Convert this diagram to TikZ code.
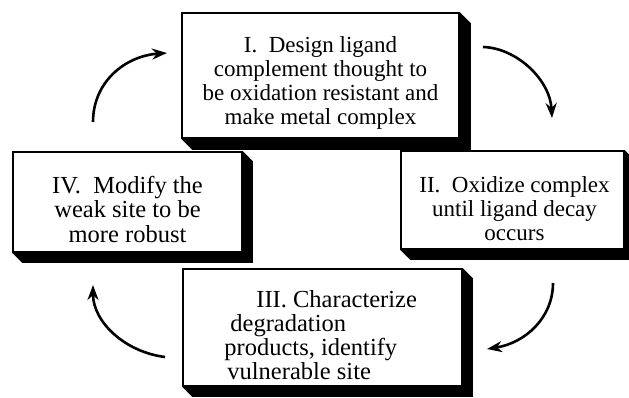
\documentclass[tikz,border=0pt]{standalone}
\usepackage{fontspec}
\setmainfont{Liberation Serif}
\usetikzlibrary{arrows.meta,calc}
\tikzset{
  face/.style={draw=black, line width=1.6pt, fill=white, inner sep=0pt},
  txt/.style={inner sep=0pt, align=center, font=\fontsize{23}{24}\selectfont},
  cyc/.style={line width=2.6pt, -{Stealth[length=15pt,width=11pt]}},
}
\newcommand{\boxshadow}[2]{%
  \fill[black] (#1.north east) -- ++(#2,#2) -- ($(#1.south east)+(#2,#2)$) --
    ($(#1.south west)+(#2,#2)$) -- (#1.south west) -- (#1.south east) -- cycle;}
\begin{document}
\begin{tikzpicture}[x=1pt,y=-1pt]
\useasboundingbox (0,0) rectangle (629,398);
\clip (0,0) rectangle (629,398);
% box I
\node[face, minimum width=277pt, minimum height=125pt] (b1) at (320.5,75.5) {};
\boxshadow{b1}{11}
\node[txt] (t1) at ($(b1.center)+(0,7)$)
  {I.\ \ Design ligand\\complement thought to\\be oxidation resistant and\\make metal complex};
% box II
\node[face, minimum width=223pt, minimum height=98pt] (b2) at (512.5,200) {};
\boxshadow{b2}{10}
\node[txt] (t2) at ($(b2.center)+(2,9)$)
  {II.\ \ Oxidize complex\\until ligand decay\\occurs};
% box III
\node[face, minimum width=279pt, minimum height=117pt] (b3) at (322.5,327.5) {};
\boxshadow{b3}{10}
\node[txt, align=left, anchor=west, font=\fontsize{24.5}{24}\selectfont] (t3) at ($(b3.west)+(42,8)$)
  {\hspace*{32pt}III. Characterize\\\hspace*{6pt}degradation\\products, identify\\\hspace*{3pt}vulnerable site};
% box IV
\node[face, minimum width=229pt, minimum height=100pt] (b4) at (127.5,202) {};
\boxshadow{b4}{10}
\node[txt, font=\fontsize{24.5}{24.5}\selectfont] (t4) at ($(b4.center)+(0,7)$)
  {IV.\ \ Modify the\\weak site to be\\more robust};
% arrows
\coordinate (a1s) at (93,122); \coordinate (a1e) at (167,53);
\coordinate (a2s) at (483,47); \coordinate (a2e) at (552,118);
\coordinate (a3s) at (553,283); \coordinate (a3e) at (487,349);
\coordinate (a4s) at (165,357); \coordinate (a4e) at (93,285);
\draw[cyc] (a1s) .. controls (93,82) and (125,56) .. (a1e);
\draw[cyc] (a2s) .. controls (517,48) and (550,80) .. (a2e);
\draw[cyc] (a3s) .. controls (553,318) and (525,343) .. (a3e);
\draw[cyc] (a4s) .. controls (125,352) and (93,322) .. (a4e);
\end{tikzpicture}
\end{document}
